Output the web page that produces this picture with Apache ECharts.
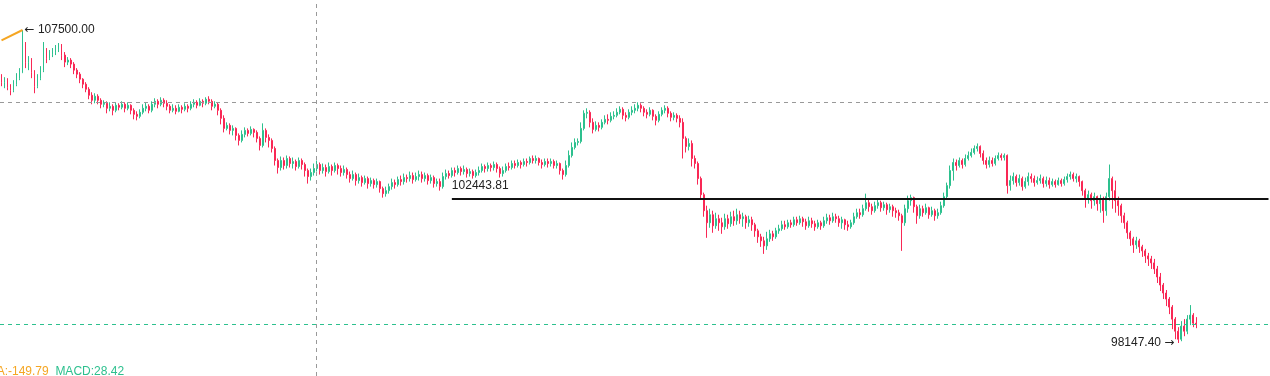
<!DOCTYPE html>
<html>
<head>
<meta charset="utf-8">
<script src="https://cdn.jsdelivr.net/npm/echarts@6/dist/echarts.min.js"></script>
<style>
  html, body { margin: 0; padding: 0; background: #ffffff; }
  #chart { width: 1270px; height: 376px; }
</style>
</head>
<body>
<div id="chart"></div>
<script>
// ---------------- data ----------------
const firstOpen = 106060;
const closes = [
105940,106000,105790,105700,105880,106060,106240,106960,106540,106600,
106240,105820,106060,106300,106900,106660,106780,106840,106930,107020,
106750,106540,106600,106480,106300,106180,106030,105880,105730,105550,
105400,105520,105400,105280,105310,105160,105220,105100,105250,105190,
105280,105160,105250,105100,104980,104920,105040,105160,105220,105100,
105280,105370,105280,105400,105310,105220,105100,105160,105070,105190,
105130,105220,105160,105280,105340,105250,105370,105310,105430,105370,
105220,105280,105100,104860,104560,104650,104500,104560,104350,104200,
104380,104500,104410,104530,104440,104260,104050,104500,104290,104200,
103960,103600,103390,103600,103450,103660,103510,103570,103420,103600,
103480,103300,103120,103240,103360,103480,103300,103390,103270,103420,
103300,103450,103360,103240,103330,103180,103060,103180,103000,103090,
102940,103060,102910,103000,102880,102970,102760,102610,102700,102820,
102940,102880,103030,102970,103090,103060,103150,103030,103120,103180,
103060,103150,103000,103090,102910,102970,102820,103120,103210,103150,
103300,103240,103360,103270,103330,103210,103270,103150,103240,103300,
103420,103360,103450,103390,103480,103360,103210,103300,103420,103390,
103510,103450,103540,103480,103570,103540,103660,103600,103660,103540,
103480,103570,103510,103570,103450,103510,103300,103180,103450,103750,
103990,104140,104170,104560,105010,105040,104740,104530,104650,104590,
104740,104830,104800,104920,104950,105040,105130,104950,104890,105040,
105100,105160,105250,105160,105040,104980,105100,104920,104800,104980,
105100,105160,105010,104890,104950,104860,104740,104260,104020,104110,
103660,103510,103060,102580,102100,101740,101980,101650,101860,101740,
101620,101860,101710,101920,101800,101980,101860,101920,101740,101830,
101680,101500,101320,101200,101050,101260,101410,101320,101500,101560,
101680,101620,101740,101680,101830,101740,101860,101770,101650,101800,
101710,101620,101740,101650,101800,101890,101800,101920,101860,101740,
101830,101680,101620,101740,101920,102040,101980,102160,102340,102220,
102100,102250,102340,102190,102280,102130,102220,102100,102040,101950,
101740,102160,102400,102490,102220,101950,102160,102040,102190,101980,
102100,101950,102040,102250,102520,102850,103300,103540,103450,103600,
103480,103660,103750,103840,103960,104020,103810,103600,103480,103600,
103510,103660,103750,103690,103750,102850,103000,103120,102940,103060,
102820,102970,103120,103060,102940,103000,103060,102910,103000,102880,
102970,102880,103000,102910,103030,103120,103180,103060,103120,102970,
102700,102460,102580,102400,102520,102310,102430,102100,102520,103060,
102700,102400,102250,101950,101740,101440,101260,101080,101200,101020,
100900,100750,100660,100540,100360,100120,99880,99640,99460,99220,
98860,98500,98260,98650,98500,98860,98980,98740,98710
];
const highs = [
106180,106090,106060,105880,106000,106210,106360,107500,107140,106720,
106660,106300,106180,106420,107140,106960,106900,106960,107050,107110,
107080,106840,106690,106660,106540,106360,106240,106060,105940,105790,
105640,105610,105580,105460,105400,105370,105340,105280,105340,105310,
105370,105340,105340,105280,105160,105070,105130,105280,105340,105280,
105370,105460,105430,105490,105460,105400,105280,105280,105250,105280,
105250,105310,105280,105370,105430,105400,105460,105430,105490,105520,
105430,105370,105340,105160,104950,104740,104710,104650,104590,104410,
104500,104590,104560,104620,104560,104500,104320,104710,104560,104380,
104260,104020,103660,103720,103690,103750,103720,103690,103630,103690,
103660,103540,103360,103360,103510,103600,103540,103510,103480,103540,
103480,103540,103510,103450,103450,103390,103270,103300,103240,103210,
103150,103150,103120,103090,103060,103060,103000,102820,102820,102910,
103060,103030,103120,103150,103210,103180,103270,103240,103240,103300,
103270,103240,103210,103180,103150,103060,103060,103240,103330,103300,
103390,103390,103450,103420,103450,103390,103360,103330,103330,103420,
103510,103480,103540,103510,103570,103540,103420,103420,103510,103540,
103600,103600,103630,103600,103660,103660,103720,103750,103750,103690,
103630,103660,103660,103660,103630,103600,103540,103360,103600,103900,
104140,104260,104260,104740,105100,105160,105100,104860,104770,104740,
104830,104950,104980,105040,105070,105160,105220,105190,105040,105130,
105220,105280,105340,105310,105220,105130,105190,105130,104980,105070,
105190,105250,105220,105070,105040,105010,104950,104860,104320,104260,
104200,103750,103570,103120,102640,102250,102160,102100,102040,101980,
101890,102010,101980,102070,102100,102160,102100,102040,101980,101950,
101920,101740,101560,101410,101320,101470,101530,101500,101590,101680,
101800,101800,101830,101830,101920,101920,101950,101920,101860,101920,
101890,101800,101830,101800,101920,102010,101980,102040,102010,101950,
101920,101860,101800,101830,102040,102160,102160,102280,102610,102430,
102310,102370,102460,102400,102370,102340,102310,102280,102190,102130,
102010,102280,102550,102580,102520,102280,102280,102250,102310,102220,
102220,102160,102160,102370,102640,102940,103450,103660,103630,103690,
103660,103780,103870,103960,104050,104110,104050,103900,103690,103720,
103690,103750,103840,103810,103810,103780,103150,103240,103180,103180,
103120,103090,103240,103210,103150,103120,103180,103120,103120,103090,
103060,103030,103090,103060,103120,103210,103270,103240,103210,103150,
103000,102760,102700,102640,102640,102550,102580,102520,102640,103480,
103120,103000,102520,102310,102040,101800,101500,101320,101320,101260,
101080,100960,100840,100750,100660,100450,100240,99940,99730,99520,
99280,98920,98620,98800,98860,98980,99280,99040,98920
];
const lows = [
105820,105760,105700,105550,105640,105820,106000,106210,106360,106300,
106060,105610,105760,106000,106240,106510,106600,106690,106750,106840,
106600,106390,106450,106360,106180,106060,105910,105760,105640,105430,
105280,105310,105280,105160,105190,105010,105070,104950,105040,105100,
105130,105040,105100,104980,104830,104800,104860,104980,105070,105010,
105040,105190,105160,105220,105190,105100,105010,105040,104980,105040,
105010,105070,105040,105100,105190,105160,105220,105190,105250,105280,
105100,105160,104950,104680,104440,104500,104380,104350,104200,104050,
104140,104290,104320,104350,104290,104140,103900,103990,104140,103990,
103840,103450,103210,103300,103330,103360,103390,103360,103300,103360,
103330,103120,102910,103000,103150,103270,103180,103210,103120,103210,
103150,103240,103180,103120,103150,103060,102940,103000,102850,102910,
102820,102880,102760,102820,102760,102790,102640,102490,102520,102610,
102730,102760,102820,102850,102880,102940,102970,102910,102970,103000,
102940,102970,102880,102910,102790,102820,102700,102760,103030,103060,
103090,103120,103180,103150,103180,103090,103120,103060,103090,103150,
103240,103240,103270,103270,103300,103240,103090,103120,103240,103300,
103330,103360,103390,103360,103420,103420,103480,103510,103510,103450,
103360,103420,103390,103420,103360,103360,103180,103030,103120,103390,
103690,103930,104050,104110,104500,104860,104590,104410,104470,104470,
104530,104680,104680,104740,104830,104890,104980,104830,104770,104830,
104950,105010,105070,105040,104920,104860,104920,104800,104650,104740,
104920,105010,104890,104770,104800,104740,104590,103660,103840,103900,
103420,103360,102880,102430,101920,101290,101590,101440,101560,101500,
101410,101530,101560,101620,101650,101680,101710,101620,101560,101620,
101500,101320,101140,101020,100810,100930,101170,101200,101260,101410,
101500,101530,101560,101590,101620,101650,101680,101620,101530,101590,
101590,101500,101560,101530,101590,101710,101680,101740,101740,101620,
101560,101530,101500,101560,101680,101860,101860,101920,102100,102070,
101980,102040,102160,102070,102100,101980,102040,101920,101890,101800,
100900,101650,102040,102250,102040,101710,101860,101920,101980,101860,
101920,101800,101860,101980,102190,102460,102760,103000,103300,103390,
103360,103420,103600,103690,103780,103870,103690,103480,103360,103390,
103420,103450,103600,103600,103600,102610,102700,102880,102820,102850,
102700,102760,102850,102940,102820,102880,102910,102790,102820,102760,
102820,102790,102850,102820,102850,102940,103030,102970,102940,102820,
102550,102190,102310,102160,102250,102100,102040,101740,101950,102400,
102160,102040,101950,101740,101560,101260,101050,100840,100960,100840,
100720,100540,100450,100360,100210,99940,99700,99460,99250,99010,
98560,98260,98147.4,98200,98350,98410,98680,98620,98590
];
const slotCount = 423;                       // visible candle slots (incl. empty space on the right)
const highMark = { index: 7, value: 107500.00 };
const lowMark = { index: 392, value: 98147.40 };
const rayLine = { index: 150, value: 102443.81 };
const trendLine = [[0, 107190], [7, 107500]];
const crosshair = { index: 105, value: 105350 };
const macdLegend = [{ name: 'DEA', value: '-149.79' }, { name: 'MACD', value: '28.42' }];
const yMin = 97161, yMax = 108396;

// ---------------- build ----------------
const categories = [];
for (let i = 0; i < slotCount; i++) categories.push(String(i));
const kdata = closes.map((c, i) => {
  const o = i === 0 ? firstOpen : closes[i - 1];
  return [o, c, lows[i], highs[i]];
});
const lastPrice = closes[closes.length - 1];

const UP = '#2DC08E', DOWN = '#F92855';
const FONT = 'Arial, "Liberation Sans", sans-serif';
const ARROW_FONT = '"DejaVu Sans", sans-serif';

const chart = echarts.init(document.getElementById('chart'), null, { renderer: 'canvas' });
chart.setOption({
  animation: false,
  backgroundColor: '#ffffff',
  grid: { left: 0, right: 0, top: 0, bottom: 0, containLabel: false },
  xAxis: { type: 'category', data: categories, boundaryGap: true, show: false },
  yAxis: { type: 'value', min: yMin, max: yMax, show: false, scale: true, splitLine: { show: false } },
  series: [
    {
      type: 'candlestick',
      data: kdata,
      barWidth: 1.4,
      itemStyle: { color: UP, color0: DOWN, borderColor: UP, borderColor0: DOWN, borderWidth: 1 },
      markPoint: {
        symbol: 'circle', symbolSize: 0, silent: true,
        data: [
          { coord: [highMark.index, highMark.value],
            label: { show: true, position: 'right', distance: 2,
                     formatter: '{ar|\u2190} {t|' + highMark.value.toFixed(2) + '}',
                     rich: { ar: { color: '#222', fontSize: 12, fontFamily: ARROW_FONT },
                             t: { color: '#222', fontSize: 12, fontFamily: FONT } } } },
          { coord: [lowMark.index, lowMark.value],
            label: { show: true, position: 'left', distance: 4,
                     formatter: '{t|' + lowMark.value.toFixed(2) + '} {ar|\u2192}',
                     rich: { ar: { color: '#222', fontSize: 12, fontFamily: ARROW_FONT },
                             t: { color: '#222', fontSize: 12, fontFamily: FONT } } } }
        ]
      },
      markLine: {
        symbol: ['none', 'none'], silent: true, animation: false,
        data: [
          { xAxis: crosshair.index, lineStyle: { color: '#999', width: 1, type: [4, 4] }, label: { show: false } },
          { yAxis: crosshair.value, lineStyle: { color: '#999', width: 1, type: [4, 4] }, label: { show: false } },
          { yAxis: lastPrice, lineStyle: { color: '#2DC08E', width: 1, type: [4, 4] }, label: { show: false } },
          [
            { coord: [rayLine.index, rayLine.value],
              lineStyle: { color: '#111', width: 2, type: 'solid' },
              label: { show: true, position: 'insideStartTop', distance: [0, 8], formatter: rayLine.value.toFixed(2),
                       color: '#222', fontSize: 12, fontFamily: FONT } },
            { coord: [slotCount - 1, rayLine.value] }
          ]
        ]
      }
    },
    {
      type: 'line',
      data: trendLine,
      symbol: 'none',
      silent: true,
      lineStyle: { color: '#F5A623', width: 2 }
    }
  ],
  graphic: [
    {
      type: 'text', left: -20, top: 366, silent: true,
      style: {
        text: '{a|' + macdLegend[0].name + ':' + macdLegend[0].value + '}  {b|' + macdLegend[1].name + ':' + macdLegend[1].value + '}',
        rich: {
          a: { fill: '#F5A623', fontSize: 12, fontFamily: FONT },
          b: { fill: '#2DC08E', fontSize: 12, fontFamily: FONT }
        }
      }
    }
  ]
});
</script>
</body>
</html>
